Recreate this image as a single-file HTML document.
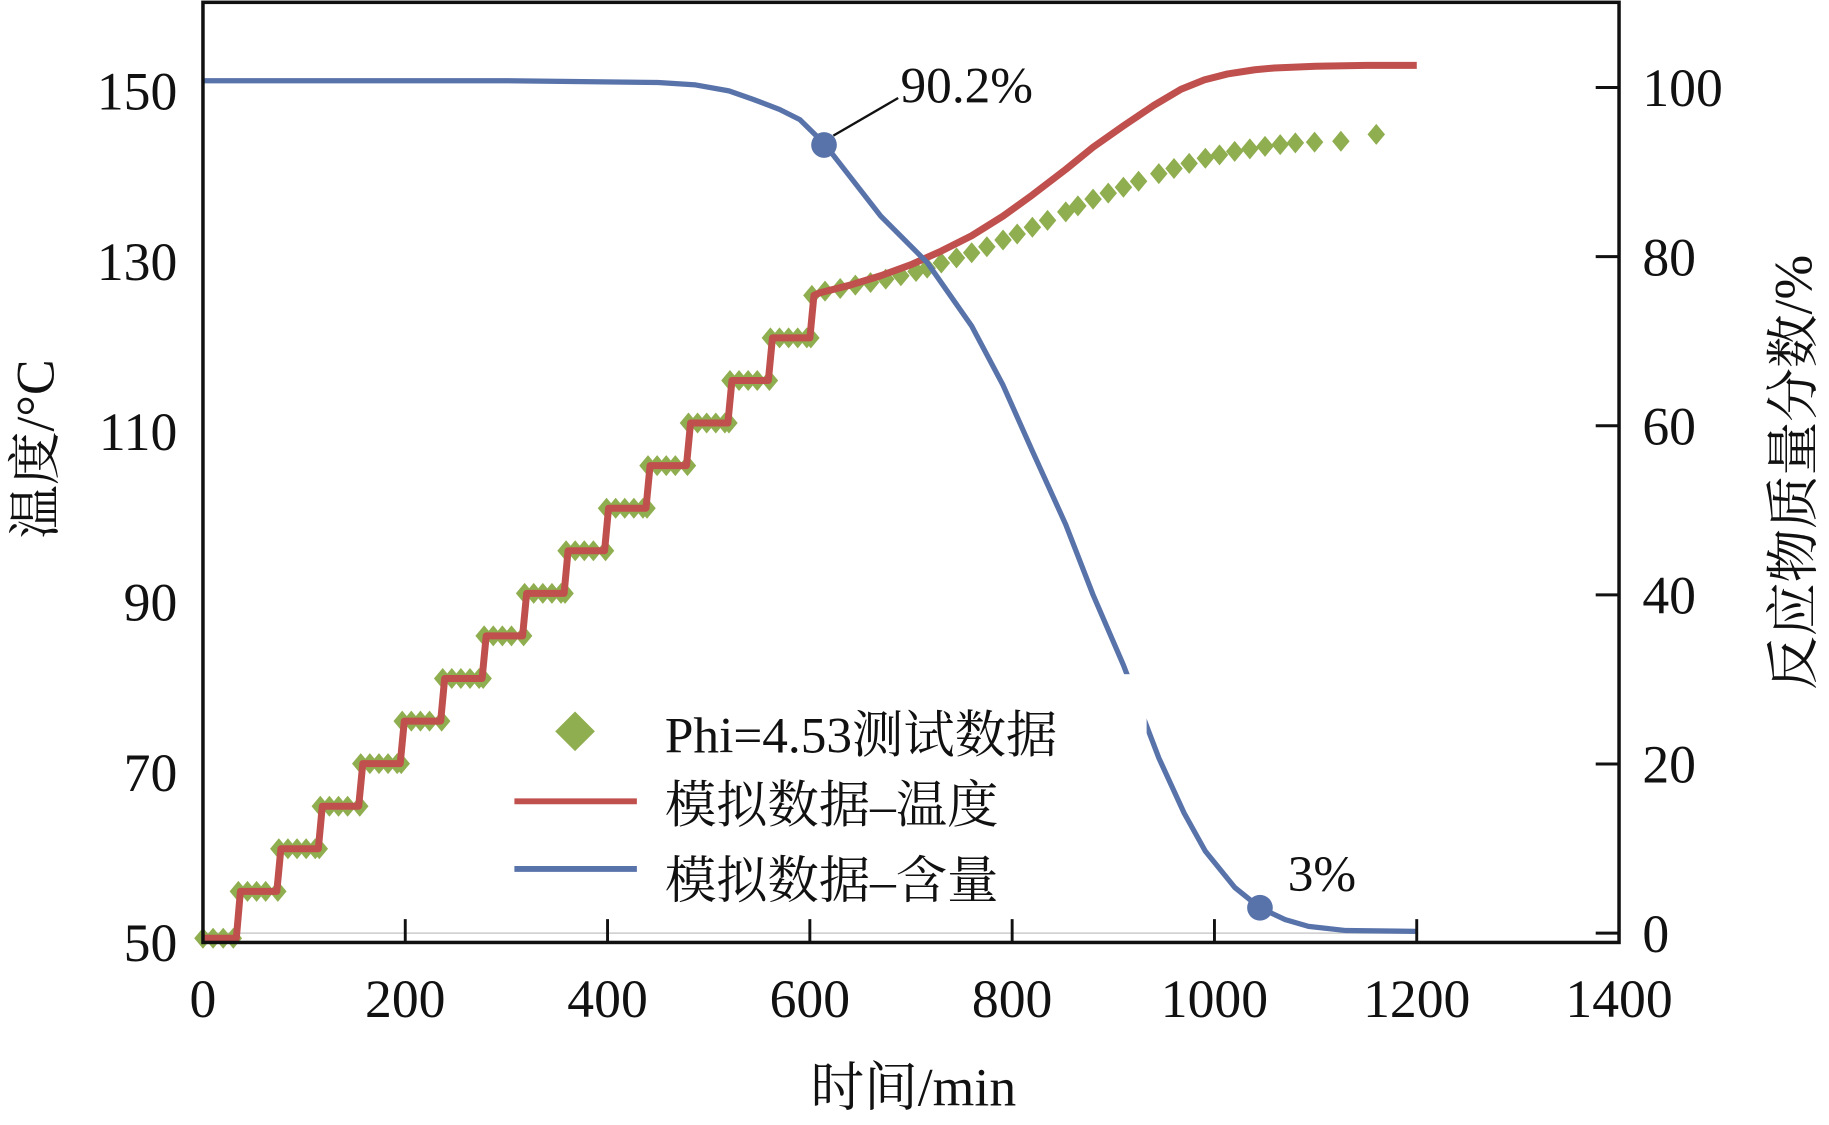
<!DOCTYPE html>
<html><head><meta charset="utf-8"><style>
html,body{margin:0;padding:0;background:#fff;}
svg{display:block;}
text{font-family:"Liberation Serif","Noto Serif CJK SC","Noto Sans CJK SC",serif;fill:#111;}
</style></head><body>
<svg id="chart" width="1829" height="1125" viewBox="0 0 1568 964.5" preserveAspectRatio="none" xmlns="http://www.w3.org/2000/svg">
<g id="marks"></g>
</svg>
<script>
const xTicks=[0,200,400,600,800,1000,1200,1400];
const leftTicks=[50,70,90,110,130,150];
const rightTicks=[0,20,40,60,80,100];
const stepTimes=[35,75,116,156,197,237,278,318,359,399,440,480,521,561,602];
const stepLevels=[56,61,66,71,76,81,86,91,96,101,106,111,116,121,126];
const startLevel=50.5;
const redTailT=[610,640,670,700,730,760,791,820,853,880,910,940,967,990,1013,1040,1059,1100,1150,1200];
const redTailV=[126.3,127.2,128.3,129.6,131.2,133.0,135.3,137.8,140.8,143.4,145.9,148.3,150.2,151.3,152.0,152.5,152.7,152.9,153.0,153.0];
const greenTailT=[615,630,645,660,675,690,705,716,730,745,760,775,791,805,820,835,853,865,880,895,910,925,945,960,975,991,1005,1020,1035,1050,1065,1080,1099,1125,1160];
const greenTailV=[126.5,126.8,127.2,127.5,127.9,128.3,128.8,129.2,129.8,130.4,131.0,131.7,132.5,133.2,134.0,134.8,135.8,136.5,137.3,138.0,138.7,139.4,140.3,140.9,141.5,142.1,142.5,142.9,143.2,143.5,143.7,143.9,144.0,144.1,144.9];
const blueT=[0,300,450,487,520,544,570,590,614,640,670,716,760,791,820,853,880,910,945,970,991,1020,1045,1070,1093,1130,1200];
const blueV=[100.8,100.8,100.6,100.3,99.6,98.6,97.4,96.2,93.4,89.4,84.8,79.3,71.8,64.8,57.0,48.3,40.0,31.7,20.7,14.2,9.7,5.4,3.0,1.6,0.8,0.3,0.2];
const markerT=[614,1045];
const markerV=[93.2,3.0];
const markerLabels=["90.2%","3%"];

const NS="http://www.w3.org/2000/svg";
const g=document.getElementById('marks');
const X=t=>174+t*(1388-174)/1400;
const YL=v=>78+(150-v)*7.3;
const YR=p=>75+(100-p)*7.25;
function mk(tag,attrs,txt){const e=document.createElementNS(NS,tag);for(const k in attrs)e.setAttribute(k,attrs[k]);if(txt!==undefined)e.textContent=txt;g.appendChild(e);return e;}

let e=mk('line',{x1:174,x2:1216,y1:800,y2:800,stroke:'#ccc','stroke-width':1.2});



let pts=[[0,startLevel]];
stepTimes.forEach((t,i)=>{const prev=i?stepLevels[i-1]:startLevel;pts.push([t-2,prev]);pts.push([t+2,stepLevels[i]]);});
redTailT.forEach((t,i)=>pts.push([t,redTailV[i]]));
const diamonds=[];
[0,10,20,30].forEach(t=>diamonds.push([t,startLevel]));
stepTimes.forEach((t,i)=>{const nx=i<stepTimes.length-1?stepTimes[i+1]:t+12;for(let s=t;s<nx-4;s+=9)diamonds.push([s,stepLevels[i]]);if(i<stepTimes.length-1)diamonds.push([nx-1,stepLevels[i]]);});
greenTailT.forEach((t,i)=>diamonds.push([t,greenTailV[i]]));
diamonds.forEach(([t,v])=>{const cx=X(t),cy=YL(v);
 const d=mk('path',{d:`M${cx},${cy-9}L${cx+7.5},${cy}L${cx},${cy+9}L${cx-7.5},${cy}Z`,fill:'#8fae4f'});
 
 });
e=mk('path',{d:'M'+pts.map(p=>X(p[0]).toFixed(1)+','+YL(p[1]).toFixed(1)).join('L'),fill:'none',stroke:'#c0504d','stroke-width':6,'stroke-linejoin':'round'});


e=mk('path',{d:'M'+blueT.map((t,i)=>X(t).toFixed(1)+','+YR(blueV[i]).toFixed(1)).join('L'),fill:'none',stroke:'#5872aa','stroke-width':4.5,'stroke-linejoin':'round'});


markerT.forEach((t,i)=>{const c=mk('circle',{cx:X(t),cy:YR(markerV[i]),r:11,fill:'#5872aa'});
 
 });
e=mk('line',{x1:X(markerT[0])+8,y1:YR(markerV[0])-8,x2:770,y2:84,stroke:'#111','stroke-width':2});


e=mk('text',{x:772,y:88,'font-size':44},markerLabels[0]);


e=mk('text',{x:1104,y:764,'font-size':44},markerLabels[1]);



e=mk('rect',{x:432,y:578,width:551,height:212,fill:'#fff'});


e=mk('path',{d:'M493,610L510,627L493,644L476,627Z',fill:'#8fae4f'});


e=mk('text',{x:570,y:645,'font-size':44},'Phi=4.53测试数据');


e=mk('line',{x1:441,x2:546,y1:687,y2:687,stroke:'#c0504d','stroke-width':5});


e=mk('text',{x:570,y:705,'font-size':44},'模拟数据–温度');


e=mk('line',{x1:441,x2:546,y1:745,y2:745,stroke:'#5872aa','stroke-width':5});


e=mk('text',{x:570,y:770,'font-size':44},'模拟数据–含量');



e=mk('rect',{x:174,y:2,width:1214,height:806,fill:'none',stroke:'#111','stroke-width':3});


xTicks.forEach(t=>{const l=mk('line',{x1:X(t),x2:X(t),y1:788,y2:808,stroke:'#111','stroke-width':2.5});
 
 
 const tx=mk('text',{x:X(t),y:872,'font-size':46,'text-anchor':'middle'},String(t));
 
 });
leftTicks.forEach(v=>{const tx=mk('text',{x:152,y:YL(v)+16,'font-size':46,'text-anchor':'end'},String(v));
 
 });
rightTicks.forEach(v=>{const l=mk('line',{x1:1368,x2:1388,y1:YR(v),y2:YR(v),stroke:'#111','stroke-width':2.5});
 
 
 const tx=mk('text',{x:1408,y:YR(v)+16,'font-size':46},String(v));
 
 });
e=mk('text',{x:783,y:948,'font-size':46,'text-anchor':'middle'},'时间/min');


e=mk('text',{x:0,y:0,'font-size':46,'text-anchor':'middle',transform:'translate(46,385) rotate(-90)'},'温度/°C');


e=mk('text',{x:0,y:0,'font-size':46,'text-anchor':'middle',transform:'translate(1553,405) rotate(-90)'},'反应物质量分数/%');


</script>
</body></html>
